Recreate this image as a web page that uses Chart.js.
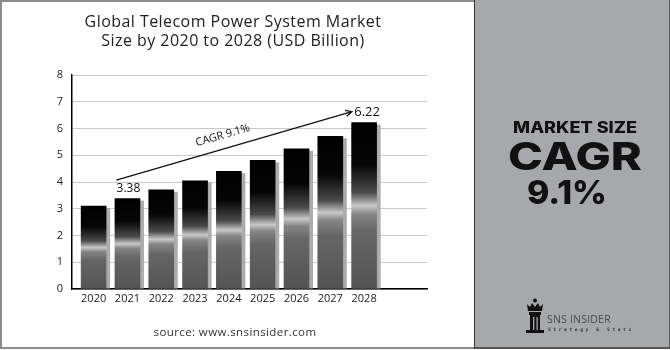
<!DOCTYPE html>
<html>
<head>
<meta charset="utf-8">
<script src="https://cdn.jsdelivr.net/npm/chart.js@4.4.0/dist/chart.umd.min.js"></script>
<style>
  body { margin: 0; width: 670px; height: 350px; overflow: hidden; background: #fff; font-family: "Open Sans", sans-serif; }
  #chart { position: absolute; left: 0; top: 0; }
  #frame { position: absolute; left: 0; top: 0; width: 472px; height: 345px; border: 2px solid #8c8c8c; border-right: none; pointer-events: none; }
  #panel { position: absolute; left: 474px; top: 0; width: 194px; height: 347px; background: #a7a8ab; border-left: 1px solid #333; border-right: 1px solid #555; border-bottom: 2px solid #555; }
  #title { position: absolute; left: 0; top: 12px; width: 466px; text-align: center; font-size: 16px; letter-spacing: 0.45px; line-height: 19px; color: #222; }
  #source { position: absolute; left: 0; top: 324px; width: 470px; text-align: center; font-size: 11.5px; letter-spacing: 0.4px; color: #333; }
  .fit { position: absolute; white-space: nowrap; font-family: Inter, "Open Sans", sans-serif; font-weight: 800; line-height: 1; color: #111; transform-origin: center; }
  #logo-text { position: absolute; left: 547px; top: 312px; font-size: 10.5px; color: #4a4a4c; letter-spacing: 0.2px; }
  #logo-sub { position: absolute; left: 548px; top: 327px; font-size: 4.6px; font-weight: 700; color: #333; letter-spacing: 2.6px; font-family: "DejaVu Sans Mono", monospace; }
</style>
</head>
<body>
<canvas id="chart" width="474" height="347"></canvas>
<div id="frame"></div>
<div id="title">Global Telecom Power System Market<br>Size by 2020 to 2028 (USD Billion)</div>
<div id="source">source: www.snsinsider.com</div>
<div id="panel"></div>
<div class="fit" data-w="124" data-cx="575" style="top:120px;font-size:15.5px">MARKET SIZE</div>
<div class="fit" data-w="134" data-cx="575" style="top:137px;font-size:38.5px">CAGR</div>
<div class="fit" data-w="80" data-cx="567" style="top:176px;font-size:33px">9.1%</div>
<svg style="position:absolute;left:525px;top:298px" width="22" height="36" viewBox="0 0 22 36">
  <circle cx="10" cy="2.5" r="2" fill="#111"/>
  <path d="M2 6 L5 9 L7 5 L10 9 L13 5 L15 9 L18 6 L17 13 L3 13 Z" fill="#111"/>
  <rect x="4" y="14" width="12" height="3" fill="#111"/>
  <rect x="5" y="17" width="10" height="15" fill="#111"/>
  <rect x="8" y="19" width="1.3" height="13" fill="#a7a8ab"/>
  <rect x="11.5" y="19" width="1.3" height="13" fill="#a7a8ab"/>
  <rect x="1" y="32" width="18" height="3" fill="#111"/>
</svg>
<div id="logo-text">SNS INSIDER</div>
<div id="logo-sub">Strategy &amp; Stats</div>
<script>
const years = [2020, 2021, 2022, 2023, 2024, 2025, 2026, 2027, 2028];
const marketSize = [3.10, 3.38, 3.71, 4.04, 4.40, 4.81, 5.24, 5.71, 6.22];
const yTicks = [0, 1, 2, 3, 4, 5, 6, 7, 8];
const labelledYears = [2021, 2028];
const cagrLabel = "CAGR 9.1%";
const arrowFrom = [2020.67, 4.07];
const arrowTo = [2027.64, 6.63];
const cagrLabelAt = [2023.82, 5.74];

function barFill(c) {
  const chart = c.chart;
  if (!chart.chartArea || !c.raw) return "#000";
  const ys = chart.scales.y;
  const top = ys.getPixelForValue(c.raw.y);
  const base = ys.getPixelForValue(0);
  const g = chart.ctx.createLinearGradient(0, top, 0, base);
  g.addColorStop(0, "#000");
  g.addColorStop(0.25, "#060606");
  g.addColorStop(0.42, "#4a4a4a");
  g.addColorStop(0.5, "#c8c8c8");
  g.addColorStop(0.55, "#858585");
  g.addColorStop(0.65, "#666");
  g.addColorStop(1, "#535353");
  return g;
}

// grey strip on the right of each bar, like the 3d look
const barShadow = {
  id: "barShadow",
  beforeDatasetsDraw(chart) {
    const ctx = chart.ctx;
    ctx.save();
    ctx.fillStyle = "#acacac";
    chart.getDatasetMeta(0).data.forEach(bar => {
      const { x, y, base, width } = bar.getProps(["x", "y", "base", "width"], true);
      ctx.fillRect(x + width / 2, y + 2, 4, base - y - 2);
    });
    ctx.restore();
  }
};

const notes = {
  id: "notes",
  afterDatasetsDraw(chart) {
    const { ctx, scales: { x, y } } = chart;
    const bars = chart.getDatasetMeta(0).data;
    ctx.save();
    ctx.fillStyle = "#111";
    ctx.textAlign = "center";
    ctx.textBaseline = "middle";
    labelledYears.forEach((yr, k) => {
      const i = years.indexOf(yr);
      const last = k === labelledYears.length - 1;
      ctx.font = (last ? 13 : 12) + "px 'Open Sans'";
      ctx.fillText(marketSize[i].toFixed(2), bars[i].x + (last ? 3 : 1), bars[i].y - 10);
    });

    const x1 = x.getPixelForValue(arrowFrom[0]), y1 = y.getPixelForValue(arrowFrom[1]);
    const x2 = x.getPixelForValue(arrowTo[0]), y2 = y.getPixelForValue(arrowTo[1]);
    const ang = Math.atan2(y2 - y1, x2 - x1);
    ctx.strokeStyle = "#111";
    ctx.lineWidth = 1.3;
    ctx.beginPath();
    ctx.moveTo(x1, y1);
    ctx.lineTo(x2, y2);
    ctx.moveTo(x2 - 7 * Math.cos(ang - 0.45), y2 - 7 * Math.sin(ang - 0.45));
    ctx.lineTo(x2, y2);
    ctx.lineTo(x2 - 7 * Math.cos(ang + 0.45), y2 - 7 * Math.sin(ang + 0.45));
    ctx.stroke();

    ctx.translate(x.getPixelForValue(cagrLabelAt[0]), y.getPixelForValue(cagrLabelAt[1]));
    ctx.rotate(ang);
    ctx.font = "11px 'Open Sans'";
    ctx.fillText(cagrLabel, 0, 0);
    ctx.restore();
  }
};

new Chart(document.getElementById("chart"), {
  type: "bar",
  data: {
    datasets: [{
      data: years.map((yr, i) => ({ x: yr, y: marketSize[i] })),
      backgroundColor: barFill,
      borderWidth: 0,
      barThickness: 25,
    }],
  },
  options: {
    responsive: false,
    animation: false,
    devicePixelRatio: 1,
    layout: { padding: { top: 75, left: 0, right: 47, bottom: 38 } },
    plugins: { legend: { display: false }, tooltip: { enabled: false } },
    scales: {
      x: {
        type: "linear",
        offset: false,
        min: 2019.36,
        max: 2029.86,
        afterBuildTicks: a => { a.ticks = years.map(v => ({ value: v })); },
        afterFit: s => { s.height = 20; },
        grid: { display: false, drawTicks: false, offset: false },
        border: { color: "#000", width: 1.5 },
        ticks: {
          callback: v => String(v),
          autoSkip: false,
          maxRotation: 0,
          padding: 3,
          color: "#222",
          font: { family: "'Open Sans'", size: 11 },
        },
      },
      y: {
        min: 0,
        max: 8,
        afterBuildTicks: a => { a.ticks = yTicks.map(v => ({ value: v })); },
        afterFit: s => { s.width = 72; },
        grid: { color: "#c9c9c9", drawTicks: false },
        border: { color: "#000", width: 1.5 },
        ticks: {
          padding: 9,
          color: "#222",
          font: { family: "'Open Sans'", size: 11 },
        },
      },
    },
  },
  plugins: [barShadow, notes],
});

document.querySelectorAll(".fit").forEach(el => {
  const w = el.getBoundingClientRect().width;
  el.style.left = (el.dataset.cx - w / 2) + "px";
  el.style.transform = "scaleX(" + (el.dataset.w / w) + ")";
});
</script>
</body>
</html>
